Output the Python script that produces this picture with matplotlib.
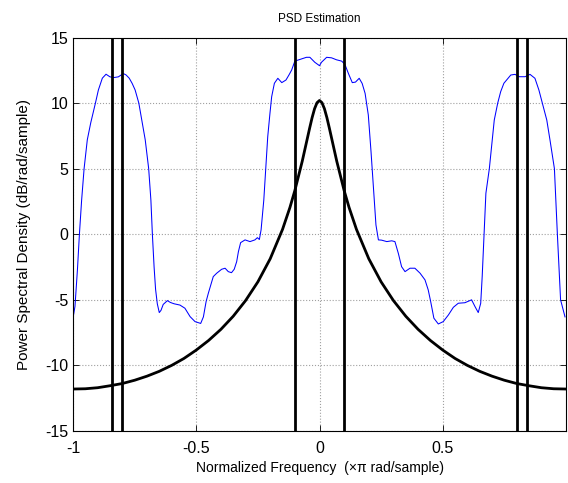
import matplotlib
matplotlib.use("Agg")
import matplotlib.pyplot as plt

# ---- data ----
blue_x = [-1.000, -0.992, -0.982, -0.974, -0.965, -0.955, -0.942, -0.928, -0.909, -0.897,
          -0.881, -0.866, -0.850, -0.833, -0.816, -0.796, -0.785, -0.772, -0.760, -0.748,
          -0.733, -0.719, -0.707, -0.693, -0.684, -0.678, -0.671, -0.665, -0.658, -0.650,
          -0.643, -0.634, -0.617, -0.605, -0.590, -0.566, -0.546, -0.525, -0.505, -0.482,
          -0.471, -0.460, -0.451, -0.441, -0.431, -0.417, -0.397, -0.383, -0.370, -0.357,
          -0.346, -0.336, -0.329, -0.320, -0.302, -0.282, -0.262, -0.252, -0.244, -0.237,
          -0.226, -0.218, -0.210, -0.201, -0.194, -0.183, -0.169, -0.160, -0.153, -0.136,
          -0.124, -0.113, -0.100, -0.079, -0.053, -0.039, -0.019, 0.000,
          0.008, 0.029, 0.049, 0.069, 0.090, 0.103, 0.117, 0.133, 0.146, 0.161,
          0.173, 0.185, 0.198, 0.209, 0.221, 0.229, 0.239, 0.252, 0.273, 0.293,
          0.306, 0.320, 0.333, 0.347, 0.367, 0.387, 0.408, 0.428, 0.441, 0.451,
          0.464, 0.482, 0.502, 0.523, 0.543, 0.563, 0.590, 0.617, 0.631, 0.644,
          0.654, 0.660, 0.667, 0.675, 0.689, 0.698, 0.709, 0.723, 0.735, 0.748,
          0.776, 0.793, 0.811, 0.834, 0.854, 0.874, 0.890, 0.904, 0.922, 0.935,
          0.953, 0.965, 0.978, 0.996]
blue_y = [-6.4, -5.5, -2.7, 0.0, 2.6, 5.0, 7.2, 8.5, 10.0, 11.0,
          11.9, 12.2, 12.0, 11.95, 12.0, 12.25, 12.15, 11.9, 11.5, 11.0,
          10.0, 8.5, 7.2, 5.0, 2.6, 0.0, -2.5, -4.2, -5.3, -5.97,
          -5.8, -5.35, -5.06, -5.2, -5.3, -5.4, -5.64, -6.28, -6.66, -6.8,
          -6.3, -5.13, -4.5, -3.86, -3.23, -2.97, -2.67, -2.59, -2.85, -2.93,
          -2.67, -2.09, -1.33, -0.64, -0.43, -0.56, -0.43, -0.26, -0.4, 0.33,
          2.6, 5.0, 7.44, 9.22, 10.49, 11.51, 11.89, 11.7, 11.56, 11.76,
          12.14, 12.52, 13.2, 13.33, 13.49, 13.49, 13.11, 12.85,
          13.11, 13.49, 13.45, 13.3, 13.2, 12.95, 12.27, 11.56, 11.6, 11.89,
          11.5, 10.74, 9.09, 6.3, 3.0, 0.71, -0.43, -0.45, -0.56, -0.5,
          -0.56, -1.47, -2.47, -2.85, -2.59, -2.59, -2.97, -3.48, -4.24, -5.13,
          -6.4, -6.84, -6.66, -6.15, -5.57, -5.26, -5.22, -5.0, -5.52, -5.97,
          -5.26, -3.23, -0.18, 3.12, 5.0, 6.68, 8.71, 10.0, 10.87, 11.51,
          12.14, 12.19, 12.01, 12.01, 12.19, 11.89, 11.0, 10.0, 8.71, 7.19,
          5.0, 0.0, -5.0, -6.3]

black_x = [-1.0, -0.95, -0.9, -0.85, -0.8, -0.75, -0.7, -0.65, -0.6, -0.55,
           -0.5, -0.45, -0.4, -0.35, -0.3, -0.25, -0.2, -0.15, -0.12, -0.1,
           -0.07, -0.05, -0.04, -0.03, -0.02, -0.01, 0.0,
           0.01, 0.02, 0.03, 0.04, 0.05, 0.07, 0.1, 0.12, 0.15, 0.2,
           0.25, 0.3, 0.35, 0.4, 0.45, 0.5, 0.55, 0.6, 0.65, 0.7,
           0.75, 0.8, 0.85, 0.9, 0.95, 1.0]
black_y = [-11.8, -11.78, -11.7, -11.55, -11.38, -11.13, -10.82, -10.45, -10.0, -9.47,
           -8.83, -8.1, -7.25, -6.25, -5.06, -3.63, -1.87, 0.37, 2.04, 3.33,
           5.57, 7.25, 8.09, 8.89, 9.57, 10.03, 10.2,
           10.03, 9.57, 8.89, 8.09, 7.25, 5.57, 3.33, 2.04, 0.37, -1.87,
           -3.63, -5.06, -6.25, -7.25, -8.1, -8.83, -9.47, -10.0, -10.45, -10.82,
           -11.13, -11.38, -11.55, -11.7, -11.78, -11.8]

vline_x = [-0.84, -0.8, -0.1, 0.1, 0.8, 0.84]

x_ticks = [-1, -0.5, 0, 0.5]
x_ticklabels = ["-1", "-0.5", "0", "0.5"]
y_ticks = [-15, -10, -5, 0, 5, 10, 15]
y_ticklabels = ["-15", "-10", "-5", "0", "5", "10", "15"]

plt.rcParams['font.family'] = ['Liberation Sans', 'DejaVu Sans']

fig = plt.figure(figsize=(5.68, 4.83), dpi=100)
ax = fig.add_axes([73/568, 1-431/483, 493/568, 393.5/483])

ax.plot(blue_x, blue_y, color='#0000ff', linewidth=0.75)
ax.plot(black_x, black_y, color='black', linewidth=2.0)
for xv in vline_x:
    ax.axvline(xv, color='black', linewidth=2.0)

ax.set_xlim(-1, 1)
ax.set_ylim(-15, 15)
ax.set_xticks(x_ticks)
ax.set_xticklabels(x_ticklabels)
ax.set_yticks(y_ticks)
ax.set_yticklabels(y_ticklabels)
ax.grid(True, color='#a0a0a0', linestyle=':', linewidth=0.8)
ax.tick_params(direction='in', top=True, right=True, length=4, width=0.6,
               labelsize=11.5)
ax.tick_params(axis='x', pad=7)
ax.tick_params(axis='y', pad=3.5)
for s in ax.spines.values():
    s.set_linewidth(0.8)

ax.set_title("PSD Estimation", fontsize=8.5, pad=11)
ax.set_xlabel("Normalized Frequency  (\u00d7\u03c0 rad/sample)", fontsize=10, labelpad=4)
ax.set_ylabel("Power Spectral Density (dB/rad/sample)", fontsize=11, labelpad=10)

fig.savefig("out.png", dpi=100)
